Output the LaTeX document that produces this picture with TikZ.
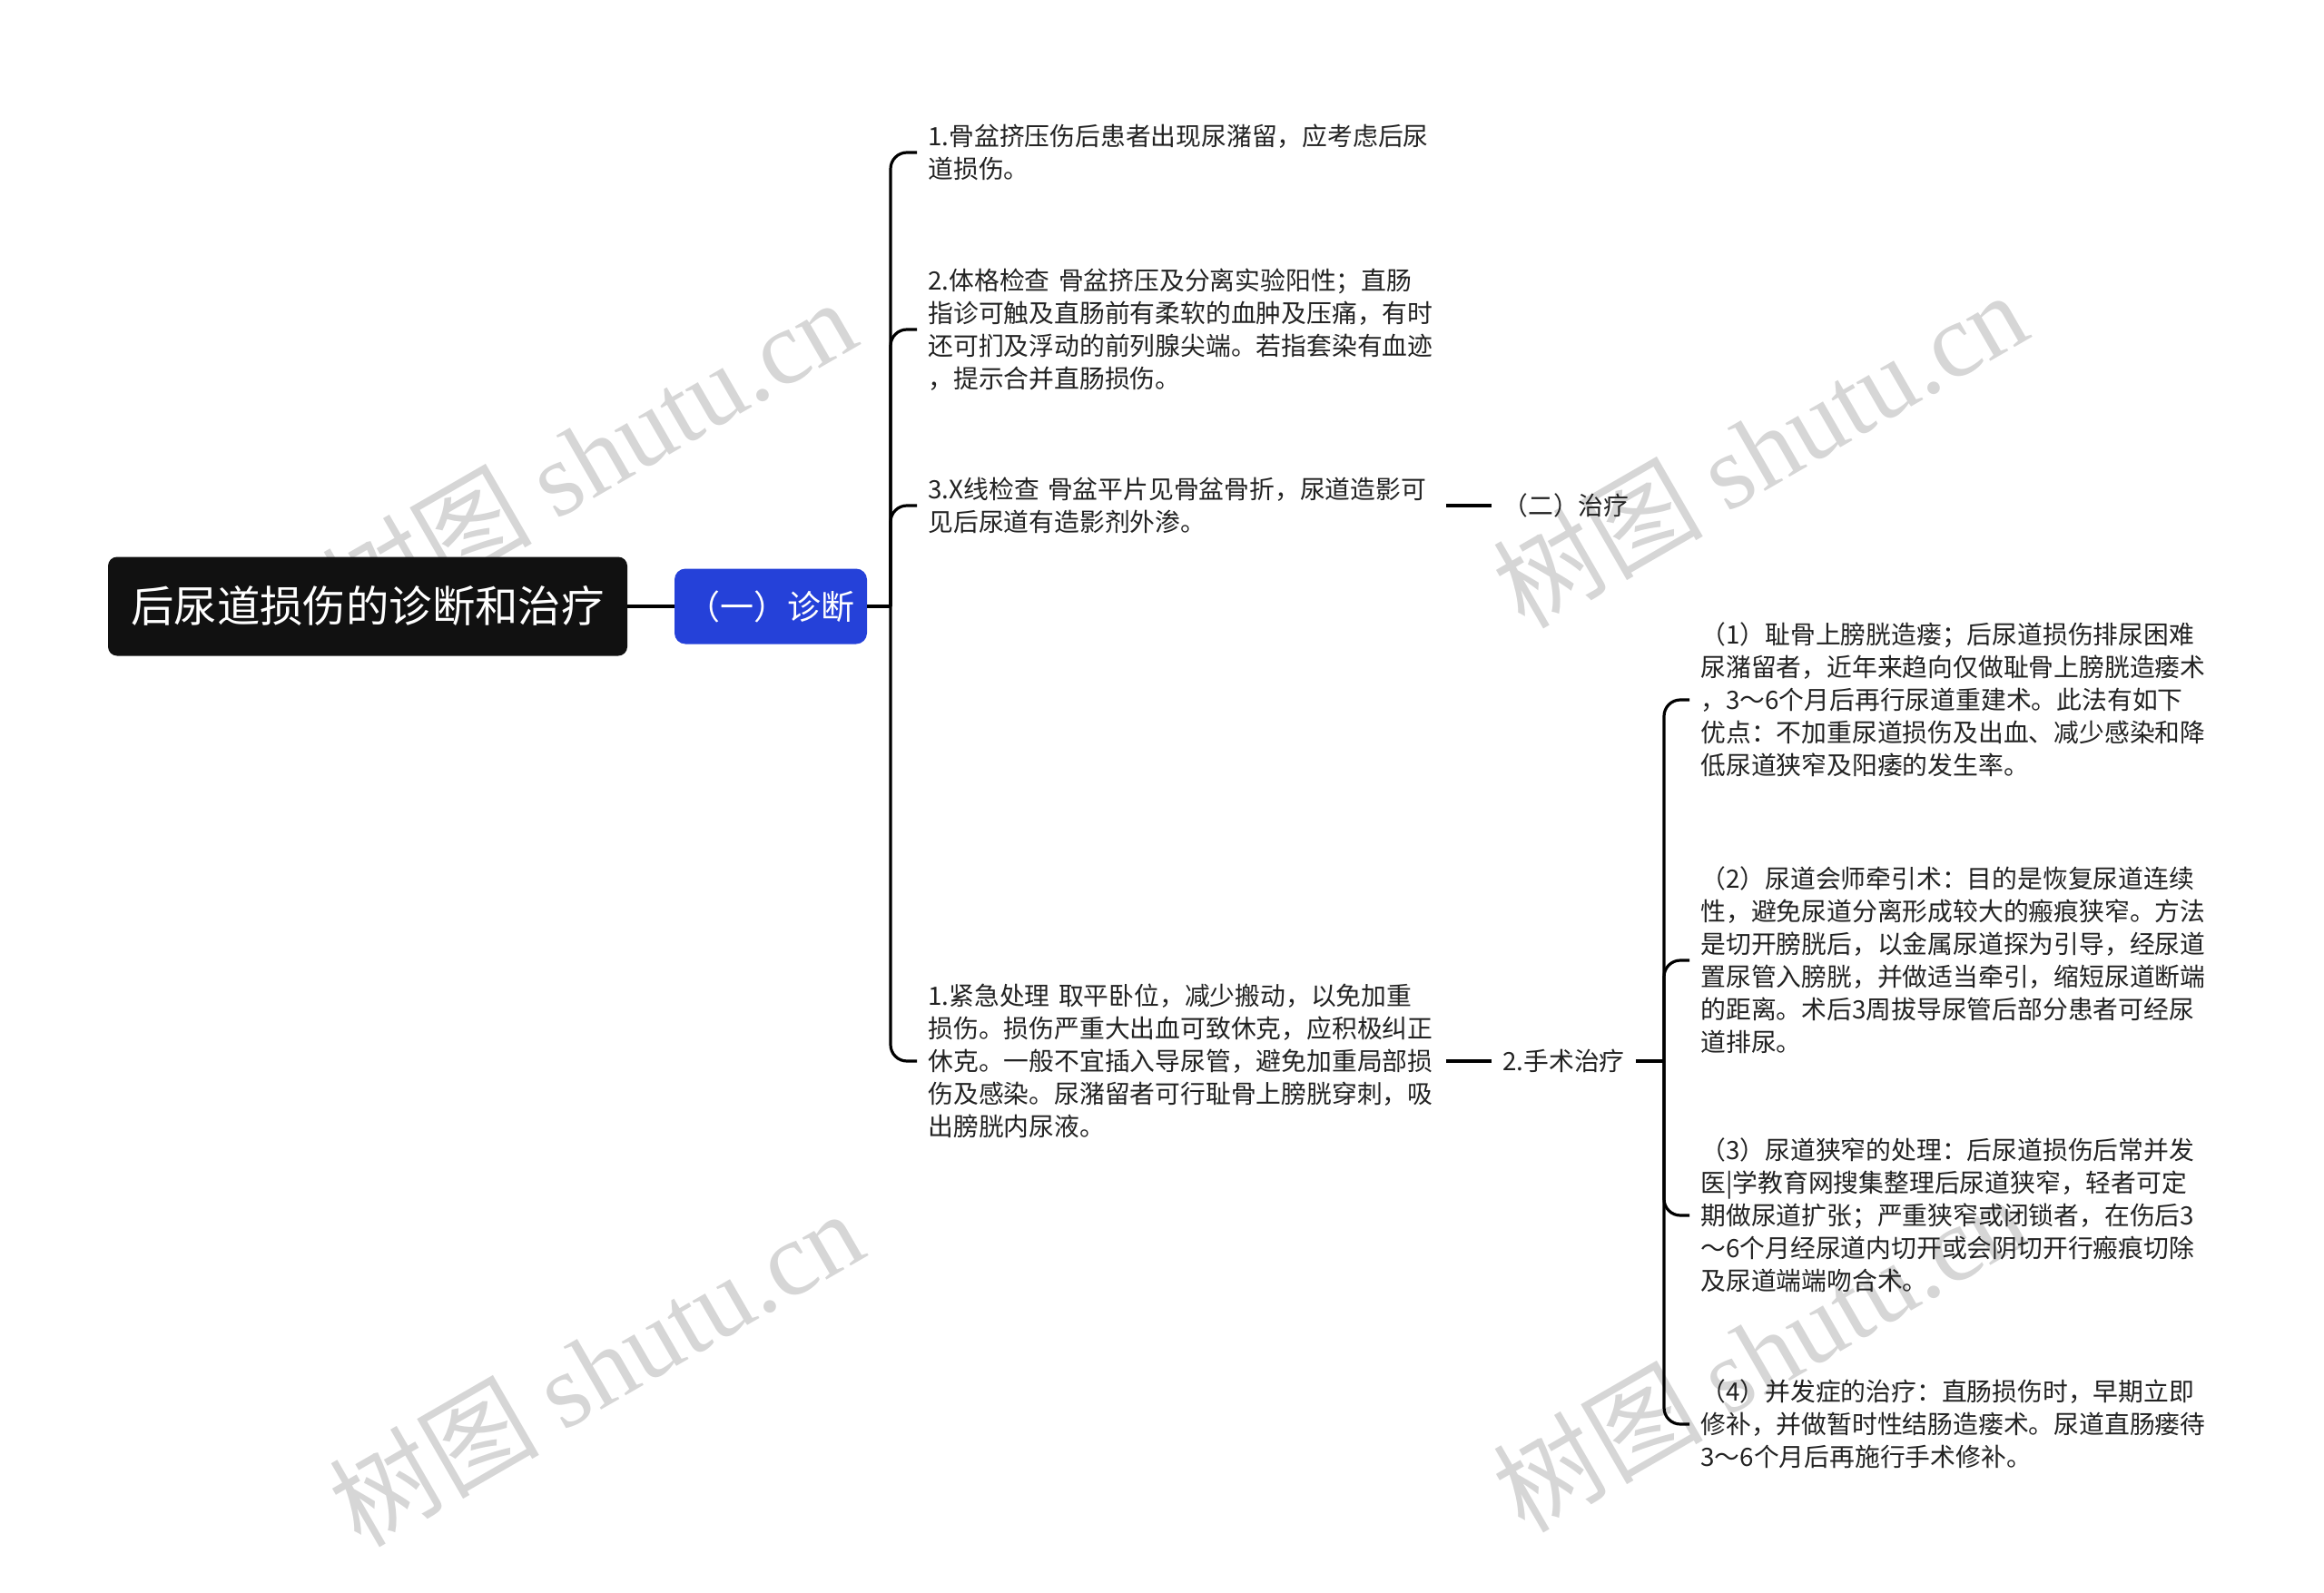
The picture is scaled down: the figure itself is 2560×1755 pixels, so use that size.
\documentclass[tikz,border=0pt]{standalone}
\usepackage{fontspec}
\setmainfont{Noto Sans CJK SC}
\newfontfamily\wmserif{Liberation Serif}
\definecolor{rootbg}{HTML}{111111}
\definecolor{diagblue}{HTML}{2541D9}
\definecolor{txt}{HTML}{222222}
\begin{document}
\begin{tikzpicture}[x=.5pt,y=-.5pt,
  link/.style={line width=1.6pt,draw=black},
  leaf/.style={anchor=west,align=left,text width=279pt,inner sep=6pt,text=txt,font=\fontsize{13.9}{18}\selectfont},
  mid/.style={anchor=west,inner sep=6pt,text=txt,font=\fontsize{13.9}{18}\selectfont},
  wm/.style={rotate=30,text=black!16,font=\fontsize{58}{64}\selectfont}]
\useasboundingbox (0,0) rectangle (2560,1755);
% watermarks
\foreach \wx/\wy in {648/502, 1938/494, 656/1506, 1938/1490}
  \node[wm] at (\wx,\wy) {树图 {\wmserif shutu.cn}};
% root and first level
\node[fill=rootbg,rounded corners=5pt,minimum width=286pt,minimum height=54.5pt,text=white,font=\fontsize{23.7}{28}\selectfont] (root) at (405,668) {后尿道损伤的诊断和治疗};
\node[fill=diagblue,rounded corners=6pt,minimum width=106pt,minimum height=41.5pt,text=white,font=\fontsize{18.5}{22}\selectfont] (diag) at (849,668) {（一）诊断};
\coordinate (j1) at (981,668);
% diagnosis items
\node[leaf] (a1) at (1010,168) {1.骨盆挤压伤后患者出现尿潴留，应考虑后尿\\道损伤。};
\node[leaf] (a2) at (1010,363) {2.体格检查 骨盆挤压及分离实验阳性；直肠\\指诊可触及直肠前有柔软的血肿及压痛，有时\\还可扪及浮动的前列腺尖端。若指套染有血迹\\，提示合并直肠损伤。};
\node[leaf] (a3) at (1010,557) {3.X线检查 骨盆平片见骨盆骨折，尿道造影可\\见后尿道有造影剂外渗。};
\node[leaf] (a4) at (1010,1169) {1.紧急处理 取平卧位，减少搬动，以免加重\\损伤。损伤严重大出血可致休克，应积极纠正\\休克。一般不宜插入导尿管，避免加重局部损\\伤及感染。尿潴留者可行耻骨上膀胱穿刺，吸\\出膀胱内尿液。};
\node[mid] (zl) at (1643,557) {（二）治疗};
\node[mid] (ss) at (1643,1169) {2.手术治疗};
\coordinate (j2) at (1833,1169);
% surgery items
\node[leaf] (b1) at (1861,771) {（1）耻骨上膀胱造瘘；后尿道损伤排尿困难\\尿潴留者，近年来趋向仅做耻骨上膀胱造瘘术\\，3～6个月后再行尿道重建术。此法有如下\\优点：不加重尿道损伤及出血、减少感染和降\\低尿道狭窄及阳痿的发生率。};
\node[leaf] (b2) at (1861,1058) {（2）尿道会师牵引术：目的是恢复尿道连续\\性，避免尿道分离形成较大的瘢痕狭窄。方法\\是切开膀胱后，以金属尿道探为引导，经尿道\\置尿管入膀胱，并做适当牵引，缩短尿道断端\\的距离。术后3周拔导尿管后部分患者可经尿\\道排尿。};
\node[leaf] (b3) at (1861,1339) {（3）尿道狭窄的处理：后尿道损伤后常并发\\医|学教育网搜集整理后尿道狭窄，轻者可定\\期做尿道扩张；严重狭窄或闭锁者，在伤后3\\～6个月经尿道内切开或会阴切开行瘢痕切除\\及尿道端端吻合术。};
\node[leaf] (b4) at (1861,1569) {（4）并发症的治疗：直肠损伤时，早期立即\\修补，并做暂时性结肠造瘘术。尿道直肠瘘待\\3～6个月后再施行手术修补。};
% connectors
\draw[link] (root) -- (diag);
\draw[link] (diag) -- (j1);
\foreach \c in {a1,a2,a3,a4} \draw[link,rounded corners=9pt] (j1) |- (\c.west);
\draw[link] (a3.east) -- (zl.west);
\draw[link] (a4.east) -- (ss.west);
\draw[link] (ss.east) -- (j2);
\foreach \c in {b1,b2,b3,b4} \draw[link,rounded corners=9pt] (j2) |- (\c.west);
\end{tikzpicture}
\end{document}
